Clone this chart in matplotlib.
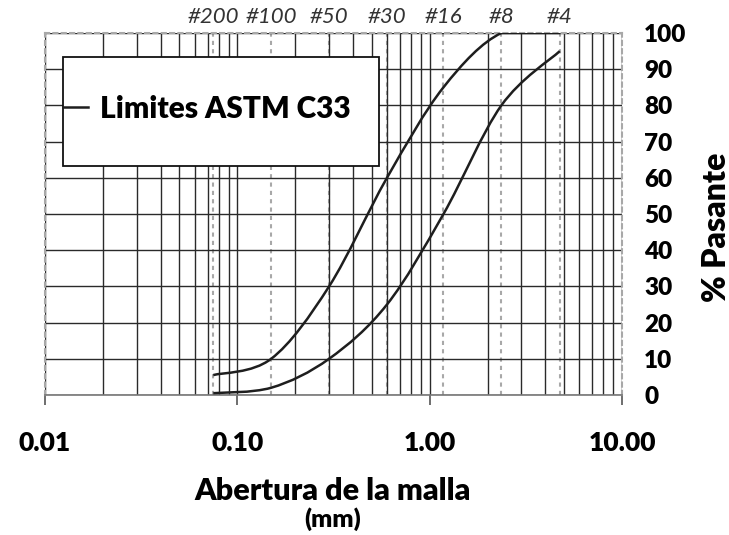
import numpy as np
import matplotlib
matplotlib.use("Agg")
import matplotlib.pyplot as plt
from matplotlib.path import Path
from matplotlib.patches import PathPatch, Rectangle
from matplotlib.lines import Line2D
from matplotlib.ticker import FixedLocator, NullLocator

plt.rcParams["font.family"] = ["Lato", "DejaVu Sans"]

# ASTM C33 fine-aggregate limits (sieve opening in mm vs % passing)
sieve_mm = [0.075, 0.15, 0.3, 0.6, 1.18, 2.36, 4.75]
sieve_names = ["#200", "#100", "#50", "#30", "#16", "#8", "#4"]
upper_pct = [5.5, 10, 30, 60, 85, 100, 100]
lower_pct = [0.5, 2, 10, 25, 50, 80, 95]

x_ticks = [0.01, 0.1, 1, 10]
y_ticks = list(range(0, 101, 10))
INK = "#2a2a2a"


def smooth_path(xs, ys):
    """Excel-like smoothed line: Catmull-Rom Bezier in (log x, y), no overshoot."""
    lx = np.log10(xs)
    y = np.asarray(ys, float)
    n = len(lx)
    verts = [(xs[0], y[0])]
    codes = [Path.MOVETO]
    for i in range(n - 1):
        p0 = max(i - 1, 0)
        p3 = min(i + 2, n - 1)
        lo, hi = min(y[i], y[i + 1]), max(y[i], y[i + 1])
        c1x = lx[i] + (lx[i + 1] - lx[p0]) / 6
        c1y = np.clip(y[i] + (y[i + 1] - y[p0]) / 6, lo, hi)
        c2x = lx[i + 1] - (lx[p3] - lx[i]) / 6
        c2y = np.clip(y[i + 1] - (y[p3] - y[i]) / 6, lo, hi)
        verts += [(10 ** c1x, c1y), (10 ** c2x, c2y), (xs[i + 1], y[i + 1])]
        codes += [Path.CURVE4] * 3
    return Path(verts, codes)


fig = plt.figure(figsize=(7.29, 5.35), dpi=100)
ax = fig.add_axes([0.0617, 0.2617, 0.7915, 0.6766])
ax.set_xscale("log")
ax.set_xlim(0.01, 10)
ax.set_ylim(0, 100)

# grid
ax.xaxis.set_major_locator(FixedLocator(x_ticks))
minor = [m * d for d in (0.01, 0.1, 1) for m in range(2, 10)]
ax.xaxis.set_minor_locator(FixedLocator(minor))
ax.set_yticks(y_ticks)
ax.grid(True, which="both", axis="x", color=INK, linewidth=1.0, zorder=0)
ax.grid(True, which="major", axis="y", color=INK, linewidth=1.0, zorder=0)
for s in sieve_mm:
    ax.axvline(s, color="#a8a8a8", linestyle=(0, (2, 2)), linewidth=1.5, zorder=0.5)

for side in ("left", "top", "right"):
    ax.spines[side].set_color("#a8a8a8")
    ax.spines[side].set_linestyle((0, (2, 2)))
    ax.spines[side].set_linewidth(1.5)
ax.spines["bottom"].set_color("#777777")
ax.spines["bottom"].set_linewidth(1.2)

ax.set_xticklabels([f"{v:.2f}" for v in x_ticks])
ax.tick_params(axis="x", which="major", length=7, width=1.2, color="#555555",
               pad=19, labelsize=19)
ax.tick_params(axis="x", which="minor", length=0)
for lbl in ax.get_xticklabels():
    lbl.set_fontweight("heavy")

ax.yaxis.tick_right()
ax.tick_params(axis="y", length=0, pad=16, labelsize=17.5)
for lbl in ax.get_yticklabels():
    lbl.set_fontweight("heavy")
ax.yaxis.set_label_position("right")
ax.set_ylabel("% Pasante", fontsize=23, fontweight="heavy", va="center",
              ha="center")
ax.yaxis.set_label_coords(1.163, 0.463)

ax.set_xlabel("Abertura de la malla", fontsize=22, fontweight="heavy",
              va="center")
ax.xaxis.set_label_coords(0.499, -0.265)
ax.text(0.499, -0.343, "(mm)", transform=ax.transAxes, fontsize=18,
        fontweight="heavy", ha="center", va="center")

# sieve numbers on top
ax2 = ax.twiny()
ax2.set_xscale("log")
ax2.set_xlim(ax.get_xlim())
ax2.xaxis.set_major_locator(FixedLocator(sieve_mm))
ax2.xaxis.set_minor_locator(NullLocator())
ax2.set_xticklabels(sieve_names, fontsize=16, style="italic", color="#333333")
ax2.tick_params(axis="x", length=0, pad=4)
for sp in ax2.spines.values():
    sp.set_visible(False)

# limit curves
for pct in (upper_pct, lower_pct):
    ax.add_patch(PathPatch(smooth_path(sieve_mm, pct), facecolor="none",
                           edgecolor="#1e1e1e", linewidth=1.8, zorder=3))

# legend box
ax.add_patch(Rectangle((0.0312, 0.6326), 0.548, 0.301, transform=ax.transAxes,
                       facecolor="white", edgecolor="#111111", linewidth=1.3,
                       zorder=4))
ax.add_line(Line2D([0.0312, 0.075], [0.795, 0.795], transform=ax.transAxes,
                   color="#1e1e1e", linewidth=1.8, zorder=5))
ax.text(0.0953, 0.79, "Limites ASTM C33", transform=ax.transAxes, fontsize=21.5,
        fontweight="heavy", ha="left", va="center", zorder=5)

fig.savefig("out.png", dpi=100)
